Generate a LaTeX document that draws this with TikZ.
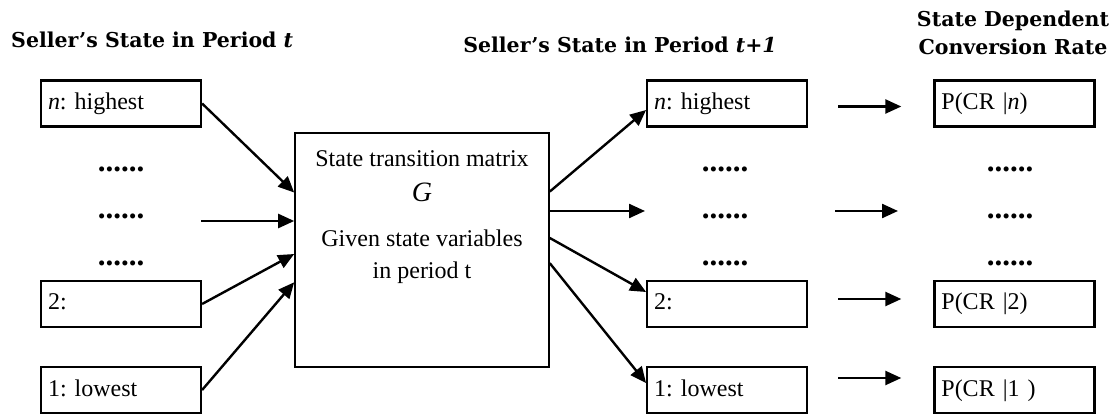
\documentclass[tikz,border=0pt]{standalone}
\usepackage{fontspec}
\setmainfont{Liberation Serif}
\newfontfamily\headfont{DejaVu Serif}
\frenchspacing
\usetikzlibrary{positioning,arrows.meta,calc}
\tikzset{
>={Triangle[length=16pt,width=14pt]},
heading/.style={inner sep=0pt,font=\headfont\bfseries\fontsize{20.5}{24}\selectfont},
statebox/.style={draw,line width=2.2pt,minimum width=160pt,minimum height=46pt,inner sep=0pt,
  text width=146pt,align=left,text height=17pt,text depth=5pt,font=\fontsize{24}{28}\selectfont},
matrixbox/.style={draw,line width=1.6pt,minimum width=254pt,minimum height=234pt,inner sep=0pt},
dotrow/.style={anchor=base,inner sep=0pt,font=\fontsize{31}{31}\selectfont\bfseries}
}

\begin{document}
\begin{tikzpicture}[x=1pt,y=-1pt,line width=2.4pt]
\useasboundingbox (0,0) rectangle (1120,414);

% headings
\node[heading,anchor=base west] (h1) at (10,48)   {Seller’s State in Period \textit{t}};
\node[heading,anchor=base]      (h2) at (620,53)  {Seller’s State in Period \textit{t+1}};
\node[heading,anchor=base]      (h3) at (1013,27) {State Dependent};
\node[heading,anchor=base]      (h4) at (1013,55) {Conversion Rate};

% period t
\node[statebox] (tn) at (121,103.5) {\textit{n}: highest};
\node[statebox] (t2) at (121,304)   {2:};
\node[statebox] (t1) at (121,390)   {1: lowest};

% period t+1
\node[statebox] (un) [right=444pt of tn] {\textit{n}: highest};
\node[statebox] (u2) [right=444pt of t2] {2:};
\node[statebox] (u1) [right=444pt of t1] {1: lowest};

% conversion rates
\node[statebox] (pn) [right=125pt of un] {P(CR |\textit{n})};
\node[statebox] (p2) [right=125pt of u2] {P(CR |2)};
\node[statebox] (p1) [right=125pt of u1] {P(CR |1 )};

% states left out
\foreach \c/\x in {t/121,u/725,p/1010}
  \foreach \r/\y in {a/172,b/219,c/266}
    \node[dotrow] (\c\r) at (\x,\y) {......};

% transition matrix
\node[matrixbox] (G) at (422,250) {};
\node[align=center,inner sep=0pt,font=\fontsize{24}{32}\selectfont] (Gtxt) [below=17pt of G.north]
  {State transition matrix\\[3.5pt]{\fontsize{28}{32}\selectfont\itshape G}\\[13pt]Given state variables\\in period t};

\coordinate (inmid)  at (201,221);
\coordinate (outmid) at (645,211);
\coordinate (crA)    at (835,211);
\coordinate (crB)    at (898,211);

\draw[->] (tn.east) -- ($(G.north west)!.256!(G.south west)$);
\draw[->] (inmid)   -- (inmid -| G.west);
\draw[->] (t2.east) -- ($(G.north west)!.517!(G.south west)$);
\draw[->] (t1.east) -- ($(G.north west)!.637!(G.south west)$);

\draw[->] ($(G.north east)!.252!(G.south east)$) -- ([yshift=-6.5pt]un.west);
\draw[->] (G.east |- outmid) -- (outmid);
\draw[->] ($(G.north east)!.449!(G.south east)$) -- ([yshift=12pt]u2.west);
\draw[->] ($(G.north east)!.556!(G.south east)$) -- ([yshift=7pt]u1.west);

\draw[->] ([xshift=30pt,yshift=-3pt]un.east) -- ([xshift=-32pt,yshift=-3pt]pn.west);
\draw[->] (crA) -- (crB);
\draw[->] ([xshift=30pt,yshift=5pt]u2.east)  -- ([xshift=-32pt,yshift=5pt]p2.west);
\draw[->] ([xshift=30pt,yshift=12pt]u1.east) -- ([xshift=-32pt,yshift=12pt]p1.west);
\end{tikzpicture}
\end{document}
